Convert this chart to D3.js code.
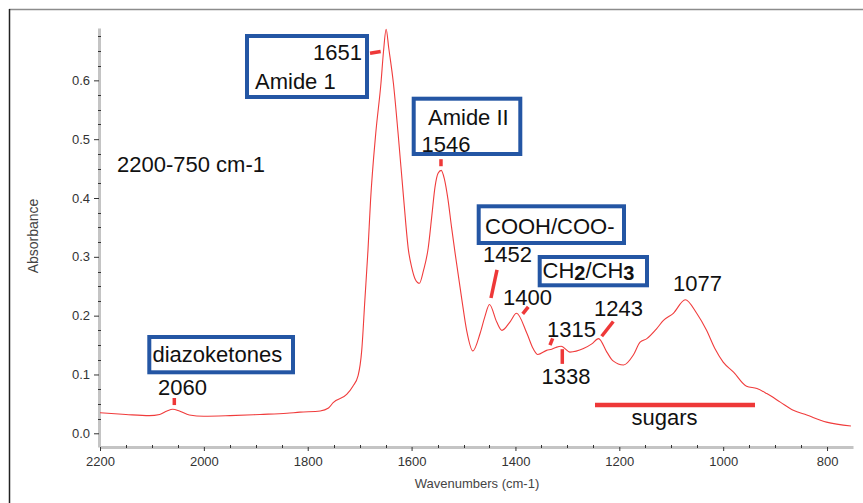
<!DOCTYPE html>
<html>
<head>
<meta charset="utf-8">
<script src="https://cdn.jsdelivr.net/npm/d3@7"></script>
<style>
  body { margin: 0; background: #fff; }
  text { font-family: "Liberation Sans", Arial, sans-serif; }
</style>
</head>
<body>
<script>
// spectrum (wavenumber in cm-1, absorbance)
const wavenumber = [2200, 2150, 2105, 2085, 2071, 2060, 2047, 2028, 2000, 1950, 1892, 1840, 1815, 1776,
  1760, 1751, 1725, 1713, 1703, 1696, 1690, 1684, 1679, 1669, 1659, 1654, 1649, 1644, 1635, 1626,
  1615, 1606, 1600, 1593, 1585, 1577, 1568, 1561, 1555, 1549, 1543, 1537, 1530, 1523, 1516, 1503, 1494, 1482,
  1468, 1459, 1450, 1436, 1426, 1410, 1398, 1378, 1366, 1357, 1340, 1330, 1322, 1312, 1295, 1269,
  1253, 1240, 1224, 1212, 1192, 1173, 1160, 1147, 1128, 1115, 1096, 1073, 1051, 1032, 1016, 1000,
  980, 955, 935, 916, 890, 865, 839, 801, 754];
const absorbance = [0.035, 0.032, 0.030, 0.032, 0.038, 0.041, 0.038, 0.031, 0.029, 0.030, 0.032, 0.034, 0.036, 0.038,
  0.043, 0.052, 0.066, 0.080, 0.098, 0.141, 0.226, 0.311, 0.396, 0.510, 0.595, 0.650, 0.687, 0.655, 0.595, 0.510,
  0.396, 0.311, 0.283, 0.262, 0.255, 0.277, 0.315, 0.370, 0.418, 0.442, 0.447, 0.433, 0.398, 0.350, 0.305, 0.226, 0.175, 0.140,
  0.170, 0.198, 0.219, 0.189, 0.175, 0.190, 0.204, 0.170, 0.144, 0.134, 0.141, 0.143, 0.146, 0.148, 0.138, 0.144,
  0.152, 0.161, 0.138, 0.123, 0.116, 0.133, 0.155, 0.161, 0.178, 0.192, 0.204, 0.227, 0.204, 0.175, 0.144, 0.121,
  0.104, 0.080, 0.076, 0.0675, 0.053, 0.039, 0.031, 0.019, 0.0124];

const xTicks = [2200, 2000, 1800, 1600, 1400, 1200, 1000, 800];
const yTicks = [0.0, 0.1, 0.2, 0.3, 0.4, 0.5, 0.6];

// red peak markers, endpoints in [wavenumber, absorbance]
const markers = [
  [[1680, 0.646], [1659.5, 0.649]],   // 1651
  [[1543.4, 0.466], [1543.4, 0.454]], // 1546
  [[1435.5, 0.278], [1447.1, 0.230]], // 1452
  [[1375.3, 0.215], [1386, 0.203]],   // 1400
  [[1328.3, 0.1615], [1333.5, 0.150]],// 1315
  [[1309.8, 0.143], [1309.8, 0.118]], // 1338
  [[1211.6, 0.190], [1233.9, 0.165]], // 1243
  [[2056.9, 0.060], [2056.9, 0.048]]  // 2060
];
const sugarsRange = [1246.8, 938.7];
const sugarsLevel = 0.048;

// annotation texts and blue boxes (page pixels)
const labels = [
  {t: "1651", x: 362, y: 60, anchor: "end"},
  {t: "Amide 1", x: 255, y: 89},
  {t: "Amide II", x: 428, y: 125},
  {t: "1546", x: 421.5, y: 152},
  {t: "COOH/COO-", x: 485, y: 234},
  {t: "1452", x: 483, y: 262},
  {t: "1400", x: 503, y: 305},
  {t: "1315", x: 547, y: 337},
  {t: "1338", x: 541.5, y: 383.5},
  {t: "1243", x: 594, y: 316},
  {t: "1077", x: 673, y: 291},
  {t: "2060", x: 158, y: 395},
  {t: "diazoketones", x: 152.5, y: 362},
  {t: "sugars", x: 631.5, y: 425},
  {t: "2200-750 cm-1", x: 117, y: 172}
];
const boxes = [
  {x: 247, y: 36, w: 120, h: 61},
  {x: 413.7, y: 98.7, w: 106.6, h: 55.3},
  {x: 478.7, y: 206.3, w: 145.3, h: 36.7},
  {x: 539.7, y: 257, w: 107.3, h: 28.3},
  {x: 149.3, y: 337, w: 143.7, h: 35.3}
];

const W = 863, H = 503;
const svg = d3.select("body").append("svg")
  .attr("width", W)
  .attr("height", H);

// frame of the original picture
svg.append("line").attr("x1", 9).attr("x2", W).attr("y1", 9.5).attr("y2", 9.5)
  .attr("stroke", "#8c8c8c").attr("stroke-width", 1.5);
svg.append("line").attr("x1", 9.5).attr("x2", 9.5).attr("y1", 9).attr("y2", H)
  .attr("stroke", "#222").attr("stroke-width", 1.5);

const xScale = d3.scaleLinear().domain([2200, 750]).range([100, 853]);
const yScale = d3.scaleLinear().domain([-0.0233, 0.689]).range([447, 28]);

// y axis
const yAxis = svg.append("g")
  .attr("transform", "translate(99,0)")
  .call(d3.axisLeft(yScale).tickValues(yTicks).tickFormat(d3.format(".1f"))
    .tickSize(5).tickSizeOuter(0).tickPadding(4));
yAxis.select(".domain").attr("stroke", "#c4c4c4").attr("stroke-width", 3);
yAxis.selectAll(".tick line").attr("stroke", "#333");
yAxis.selectAll(".tick text").attr("font-size", 13).attr("fill", "#333")
  .attr("font-family", "'Liberation Sans', Arial, sans-serif");

// x axis
const xAxis = svg.append("g")
  .attr("transform", "translate(0,447)")
  .call(d3.axisBottom(xScale).tickValues(xTicks).tickFormat(d3.format("d"))
    .tickSize(4).tickSizeOuter(0).tickPadding(6));
xAxis.select(".domain").attr("stroke", "#c4c4c4").attr("stroke-width", 3);
xAxis.selectAll(".tick line").attr("stroke", "#333");
xAxis.selectAll(".tick text").attr("font-size", 13).attr("fill", "#333")
  .attr("font-family", "'Liberation Sans', Arial, sans-serif");

// minor ticks
const yMinor = d3.range(1, 28).map(i => i * 0.025).filter(v => Math.abs(v * 10 - Math.round(v * 10)) > 0.01);
svg.append("g").selectAll("line").data(yMinor).join("line")
  .attr("x1", 98).attr("x2", 101)
  .attr("y1", d => Math.round(yScale(d)) + 0.5).attr("y2", d => Math.round(yScale(d)) + 0.5)
  .attr("stroke", "#333");
const xMinor = d3.range(2150, 750, -50).filter(v => v % 200 !== 0);
svg.append("g").selectAll("line").data(xMinor).join("line")
  .attr("x1", d => Math.round(xScale(d)) + 0.5).attr("x2", d => Math.round(xScale(d)) + 0.5)
  .attr("y1", 445).attr("y2", 448)
  .attr("stroke", "#333");

// axis titles
svg.append("text")
  .attr("x", 477).attr("y", 488)
  .attr("text-anchor", "middle")
  .attr("font-size", 13).attr("fill", "#444")
  .text("Wavenumbers (cm-1)");
svg.append("text")
  .attr("transform", "translate(38,236) rotate(-90)")
  .attr("text-anchor", "middle")
  .attr("font-size", 14).attr("fill", "#444")
  .text("Absorbance");

// spectrum
const line = d3.line()
  .x((d, i) => xScale(wavenumber[i]))
  .y((d, i) => yScale(absorbance[i]))
  .curve(d3.curveMonotoneX);
svg.append("path")
  .datum(wavenumber)
  .attr("d", line)
  .attr("fill", "none")
  .attr("stroke", "#f03c3c")
  .attr("stroke-width", 1.1);

// peak markers
svg.append("g").selectAll("line").data(markers).join("line")
  .attr("x1", d => xScale(d[0][0])).attr("y1", d => yScale(d[0][1]))
  .attr("x2", d => xScale(d[1][0])).attr("y2", d => yScale(d[1][1]))
  .attr("stroke", "#ee3838").attr("stroke-width", 3.5);

svg.append("line")
  .attr("x1", xScale(sugarsRange[0])).attr("x2", xScale(sugarsRange[1]))
  .attr("y1", yScale(sugarsLevel)).attr("y2", yScale(sugarsLevel))
  .attr("stroke", "#ee3838").attr("stroke-width", 4.5);

// blue boxes
svg.append("g").selectAll("rect").data(boxes).join("rect")
  .attr("x", d => d.x).attr("y", d => d.y)
  .attr("width", d => d.w).attr("height", d => d.h)
  .attr("fill", "#fff")
  .attr("stroke", "#2456a4")
  .attr("stroke-width", 4);

// annotation texts
svg.append("g").selectAll("text").data(labels).join("text")
  .attr("x", d => d.x).attr("y", d => d.y)
  .attr("text-anchor", d => d.anchor || "start")
  .attr("font-size", 22)
  .attr("fill", "#111")
  .text(d => d.t);

// CH2/CH3 with bold subscripts
const ch = svg.append("text")
  .attr("x", 542.5).attr("y", 278)
  .attr("font-size", 22).attr("fill", "#111");
ch.append("tspan").text("CH");
ch.append("tspan").attr("font-weight", "bold").attr("font-size", 20).attr("dy", 2).text("2");
ch.append("tspan").attr("dy", -2).text("/CH");
ch.append("tspan").attr("font-weight", "bold").attr("font-size", 20).attr("dy", 2).text("3");
</script>
</body>
</html>
